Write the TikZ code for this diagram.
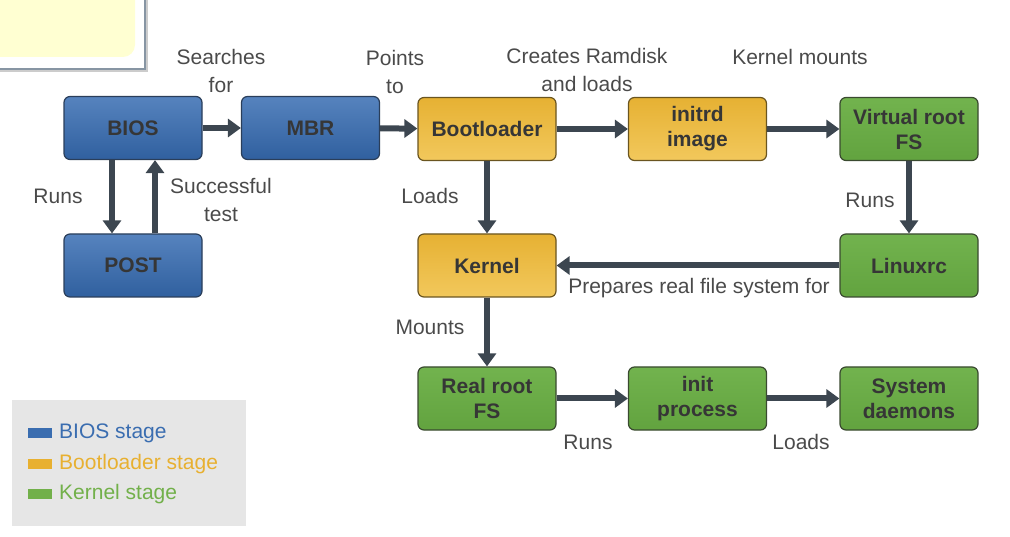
\documentclass[tikz,border=0pt]{standalone}
\usepackage{fontspec}
\setmainfont{Liberation Sans}
\usetikzlibrary{arrows.meta}
\definecolor{arr}{HTML}{3C4650}
\definecolor{bluetop}{HTML}{5683BE}
\definecolor{bluebot}{HTML}{30609F}
\definecolor{blueline}{HTML}{2A3E5A}
\definecolor{yeltop}{HTML}{E6B133}
\definecolor{yelbot}{HTML}{F2C85C}
\definecolor{yelline}{HTML}{6A5520}
\definecolor{grntop}{HTML}{72B34E}
\definecolor{grnbot}{HTML}{62A33F}
\definecolor{grnline}{HTML}{3A4A30}
\definecolor{boxtext}{HTML}{363636}
\definecolor{labtext}{HTML}{4A4A4A}
\definecolor{legbg}{HTML}{E6E6E6}
\definecolor{legblue}{HTML}{3A6DB0}
\definecolor{legyel}{HTML}{E8B030}
\definecolor{leggrn}{HTML}{72B04A}
\definecolor{noteyel}{HTML}{FFFFD2}
\definecolor{noteline}{HTML}{8795A3}
\tikzset{
  stage/.style={rounded corners=6pt, line width=1.2pt, minimum width=138pt, minimum height=63pt,
    align=center, inner sep=2pt, text=boxtext, font=\fontsize{21}{25}\selectfont\bfseries},
  bluebox/.style={stage, draw=blueline, top color=bluetop, bottom color=bluebot},
  yelbox/.style={stage, draw=yelline, top color=yeltop, bottom color=yelbot},
  grnbox/.style={stage, draw=grnline, top color=grntop, bottom color=grnbot},
  flow/.style={draw=arr, line width=6pt, -{Triangle[length=13pt,width=18pt]}},
  lab/.style={text=labtext, align=center, inner sep=0pt, font=\fontsize{21}{28}\selectfont},
  leg/.style={anchor=west, inner sep=0pt, font=\fontsize{21}{24}\selectfont},
}
\begin{document}
\begin{tikzpicture}[x=1pt,y=-1pt]
\useasboundingbox (0,0) rectangle (1010,537);
% top-left note fragment
\fill[gray!40] (-5,-5) rectangle (148,72);
\fill[white, draw=noteline, line width=2pt] (-5,-5) rectangle (145,69);
\fill[noteyel] (-5,-5) -- (135,-5) -- (135,45) arc[start angle=0,end angle=90,radius=12] -- (-5,57) -- cycle;
% boxes
\node[bluebox] (bios) at (133,128) {BIOS};
\node[bluebox] (mbr) at (310.5,128) {MBR};
\node[bluebox] (post) at (133,265.5) {POST};
\node[yelbox] (boot) at (487,129) {Bootloader};
\node[yelbox] (initrd) at (697.5,129) {initrd\\image};
\node[grnbox] (vroot) at (909,129) {Virtual root\\FS};
\node[yelbox] (kernel) at (487,265.5) {Kernel};
\node[grnbox] (linuxrc) at (909,265.5) {Linuxrc};
\node[grnbox] (rroot) at (487,398.5) {Real root\\FS};
\node[grnbox] (init) at (697.5,398.5) {init\\process};
\node[grnbox] (sysd) at (909,398.5) {System\\daemons};
% connectors
\draw[flow] (bios) -- (mbr);
\draw[flow] (mbr) -- (boot);
\draw[flow] (boot) -- (initrd);
\draw[flow] (initrd) -- (vroot);
\draw[flow] ([xshift=-21pt]bios.south) -- ([xshift=-21pt]post.north);
\draw[flow] ([xshift=22pt]post.north) -- ([xshift=22pt]bios.south);
\draw[flow] (boot) -- (kernel);
\draw[flow] (vroot) -- (linuxrc);
\draw[flow] (linuxrc) -- (kernel);
\draw[flow] (kernel) -- (rroot);
\draw[flow] (rroot) -- (init);
\draw[flow] (init) -- (sysd);
% labels
\node[lab] (l1) at (221,71) {Searches\\for};
\node[lab] (l2) at (395,72) {Points\\to};
\node[lab] (l3) at (587,70) {Creates Ramdisk\\and loads};
\node[lab] (l4) at (800,57) {Kernel mounts};
\node[lab] (l5) at (58,196) {Runs};
\node[lab] (l6) at (221,200) {Successful\\test};
\node[lab] (l7) at (430,196) {Loads};
\node[lab] (l8) at (870,200) {Runs};
\node[lab] (l9) at (699,288) {Prepares real file system for};
\node[lab] (l10) at (430,327) {Mounts};
\node[lab] (l11) at (588,442) {Runs};
\node[lab] (l12) at (801,442) {Loads};
% legend
\node[fill=legbg, minimum width=234pt, minimum height=126pt, inner sep=0pt] (legend) at (129,463) {};
\fill[legblue] (28,428) rectangle (52,438);
\fill[legyel] (28,459) rectangle (52,469);
\fill[leggrn] (28,489) rectangle (52,499);
\node[leg, text=legblue] (lg1) at (59,433) {BIOS stage};
\node[leg, text=legyel] (lg2) at (59,464) {Bootloader stage};
\node[leg, text=leggrn] (lg3) at (59,494) {Kernel stage};
\end{tikzpicture}
\end{document}
